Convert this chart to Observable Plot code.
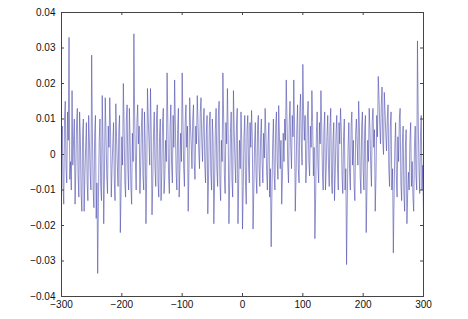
<!DOCTYPE html>
<html>
<head>
<meta charset="utf-8">
<script src="https://cdn.jsdelivr.net/npm/d3@7"></script>
<script src="https://cdn.jsdelivr.net/npm/@observablehq/plot@0.6"></script>
<style>
  html, body { margin: 0; padding: 0; background: #fff; }
  #chart svg { display: block; }
</style>
</head>
<body>
<div id="chart"></div>
<script>
// Sample positions: -300 … 300; main samples every 2.5, with in-between samples
const xStart = -300;
const xStep = 2.5;
// Signal values at the main sample positions
const yValues = [
  0.003, -0.009, 0.010, -0.004, 0.012, 0.033, -0.002, 0.018, 0.004, -0.014,
  0.009, -0.006, 0.012, -0.011, 0.006, -0.016, 0.002, -0.008, 0.011, -0.005,
  0.028, -0.010, 0.006, -0.018, -0.0335, 0.004, -0.009, 0.0166, -0.0195, 0.016,
  -0.006, 0.008, 0.016, -0.012, 0.003, -0.007, 0.0143, -0.003, 0.007, -0.022,
  0.005, 0.020, -0.008, 0.010, -0.004, 0.013, -0.009, 0.006, 0.034, -0.002,
  0.009, 0.003, -0.011, 0.008, -0.006, 0.012, -0.0195, 0.0186, 0.004, 0.0186,
  -0.017, 0.006, -0.004, 0.010, -0.008, 0.005, -0.013, 0.009, -0.011, 0.004,
  0.023, -0.006, 0.008, -0.003, 0.011, 0.021, -0.005, 0.007, -0.012, 0.006,
  0.023, -0.004, 0.009, 0.002, -0.016, 0.016, 0.003, 0.010, -0.002, 0.008,
  0.0166, 0.001, 0.012, 0.004, 0.009, -0.003, 0.006, -0.0167, 0.008, -0.005,
  0.010, -0.0195, 0.007, -0.004, 0.011, -0.008, 0.004, 0.023, -0.006, 0.009,
  0.0186, -0.0195, 0.006, -0.007, 0.018, -0.002, 0.008, -0.0195, 0.004, 0.012,
  -0.021, 0.005, -0.009, 0.007, -0.003, 0.009, 0.0124, -0.021, 0.003, -0.006,
  0.008, -0.004, 0.005, -0.002, 0.006, 0.013, -0.005, 0.004, -0.012, -0.026,
  0.003, -0.006, 0.008, -0.002, 0.0138, -0.004, -0.014, 0.006, 0.010, 0.021,
  -0.003, 0.009, 0.002, 0.011, 0.021, -0.016, 0.007, -0.004, 0.012, 0.003,
  0.0254, 0.004, -0.008, 0.010, -0.002, 0.008, 0.018, -0.006, -0.0237, 0.006,
  -0.003, 0.009, 0.018, -0.005, 0.007, -0.010, 0.005, -0.003, 0.008, -0.007,
  0.004, -0.013, 0.006, -0.004, 0.009, 0.013, -0.006, 0.005, -0.010, -0.031,
  0.002, -0.005, 0.008, -0.003, -0.009, 0.006, 0.003, 0.015, -0.006, 0.008,
  -0.004, 0.007, -0.022, 0.004, 0.013, -0.003, 0.009, 0.002, -0.016, 0.011,
  0.022, 0.008, 0.014, 0.004, 0.0175, 0.006, 0.010, -0.004, 0.008, -0.010,
  -0.0277, 0.002, -0.006, 0.005, 0.010, -0.008, 0.003, -0.011, 0.002, -0.0195,
  -0.005, 0.004, -0.009, -0.012, 0.002, -0.006, 0.032, -0.004, 0.005, -0.010, -0.0167
];
// Signal values half-way between consecutive main samples
const yBetween = [
  0.008, -0.014, 0.015, -0.008, 0.004, -0.007, -0.010, -0.003, 0.010, -0.004,
  0.013, -0.012, 0.005, -0.016, 0.010, -0.006, 0.009, -0.013, 0.004, -0.010,
  0.006, -0.015, 0.011, -0.008, -0.012, 0.010, -0.013, 0.004, -0.005, 0.006,
  -0.011, 0.002, 0.007, -0.004, 0.009, -0.013, 0.005, -0.009, 0.011, -0.010,
  -0.003, 0.008, -0.012, 0.014, -0.010, 0.004, -0.014, -0.002, 0.011, -0.010,
  0.014, 0.008, -0.003, 0.013, -0.010, 0.003, -0.006, 0.010, -0.003, 0.006,
  -0.008, 0.012, -0.009, 0.014, -0.012, 0.010, -0.005, 0.013, -0.006, -0.002,
  0.009, -0.011, 0.014, -0.008, 0.002, 0.008, -0.010, 0.013, -0.004, -0.002,
  0.010, -0.009, 0.014, 0.008, -0.004, 0.008, -0.004, 0.014, -0.007, 0.003,
  0.009, -0.004, 0.016, -0.002, 0.013, -0.008, 0.011, -0.006, 0.012, -0.010,
  0.004, -0.008, 0.013, -0.009, 0.015, -0.013, -0.002, 0.010, -0.011, 0.003,
  0.006, -0.008, 0.012, -0.012, 0.007, -0.008, 0.013, -0.007, -0.004, 0.004,
  -0.009, 0.011, -0.014, 0.011, -0.008, 0.002, 0.005, -0.010, 0.009, -0.011,
  0.011, -0.009, 0.010, -0.008, -0.001, 0.006, -0.010, 0.009, -0.004, -0.011,
  0.010, -0.010, 0.012, -0.007, 0.005, 0.004, -0.006, -0.002, 0.004, 0.010,
  -0.008, 0.015, -0.004, 0.005, 0.008, -0.006, 0.014, -0.008, 0.017, -0.003,
  0.012, 0.011, -0.003, 0.015, -0.006, 0.002, 0.009, 0.002, -0.012, 0.012,
  -0.008, 0.003, 0.008, -0.010, 0.012, -0.004, 0.011, -0.009, 0.013, -0.011,
  0.009, -0.005, 0.011, -0.010, 0.003, 0.007, -0.011, 0.010, -0.004, -0.012,
  0.009, -0.010, 0.012, 0.004, -0.013, 0.010, -0.003, 0.008, -0.011, 0.012,
  -0.010, 0.011, -0.010, -0.002, 0.007, -0.009, 0.013, 0.007, -0.006, 0.005,
  0.016, 0.003, 0.019, 0.000, 0.012, 0.001, 0.014, -0.009, 0.012, -0.004,
  -0.012, 0.009, -0.012, -0.002, 0.013, -0.013, 0.008, -0.016, 0.007, -0.011,
  -0.010, 0.009, -0.002, -0.016, 0.008, -0.010, 0.010, -0.011, 0.011, -0.003
];
const xTicks = [-300, -200, -100, 0, 100, 200, 300];
const yTicks = [-0.04, -0.03, -0.02, -0.01, 0, 0.01, 0.02, 0.03, 0.04];

const data = [];
yValues.forEach((y, i) => {
  data.push({x: xStart + i * xStep, y});
  if (i < yBetween.length) data.push({x: xStart + (i + 0.5) * xStep, y: yBetween[i]});
});

const W = 468, H = 319;
const mL = 61, mR = 45, mT = 12, mB = 23;
const innerH = H - mT - mB;
const innerW = W - mL - mR;
const tickLen = 3;

const fmtY = d => d === 0 ? "0" : d3.format(".2f")(d).replace("-", "\u2212");
const fmtX = d => String(d).replace("-", "\u2212");

const chart = Plot.plot({
  width: W,
  height: H,
  marginLeft: mL,
  marginRight: mR,
  marginTop: mT,
  marginBottom: mB,
  style: {fontFamily: "'Liberation Sans', Arial, Helvetica, sans-serif", fontSize: "10px", color: "#111", background: "#fff"},
  x: {domain: [-300, 300], ticks: xTicks},
  y: {domain: [-0.04, 0.04], ticks: yTicks},
  marks: [
    Plot.line(data, {x: "x", y: "y", stroke: "#4e4eac", strokeWidth: 0.6}),
    Plot.frame({stroke: "#444", strokeWidth: 1}),
    // inward ticks on all four sides
    Plot.tickX(xTicks, {x: d => d, insetTop: innerH - tickLen, stroke: "#444"}),
    Plot.tickX(xTicks, {x: d => d, insetBottom: innerH - tickLen, stroke: "#444"}),
    Plot.tickY(yTicks, {y: d => d, insetRight: innerW - tickLen, stroke: "#444"}),
    Plot.tickY(yTicks, {y: d => d, insetLeft: innerW - tickLen, stroke: "#444"}),
    Plot.axisX(xTicks, {anchor: "bottom", tickSize: 0, tickPadding: 4, tickFormat: fmtX, label: null, fill: "#111"}),
    Plot.axisY(yTicks, {anchor: "left", tickSize: 0, tickPadding: 6, tickFormat: fmtY, label: null, fill: "#111"})
  ]
});
document.getElementById("chart").appendChild(chart);
</script>
</body>
</html>
